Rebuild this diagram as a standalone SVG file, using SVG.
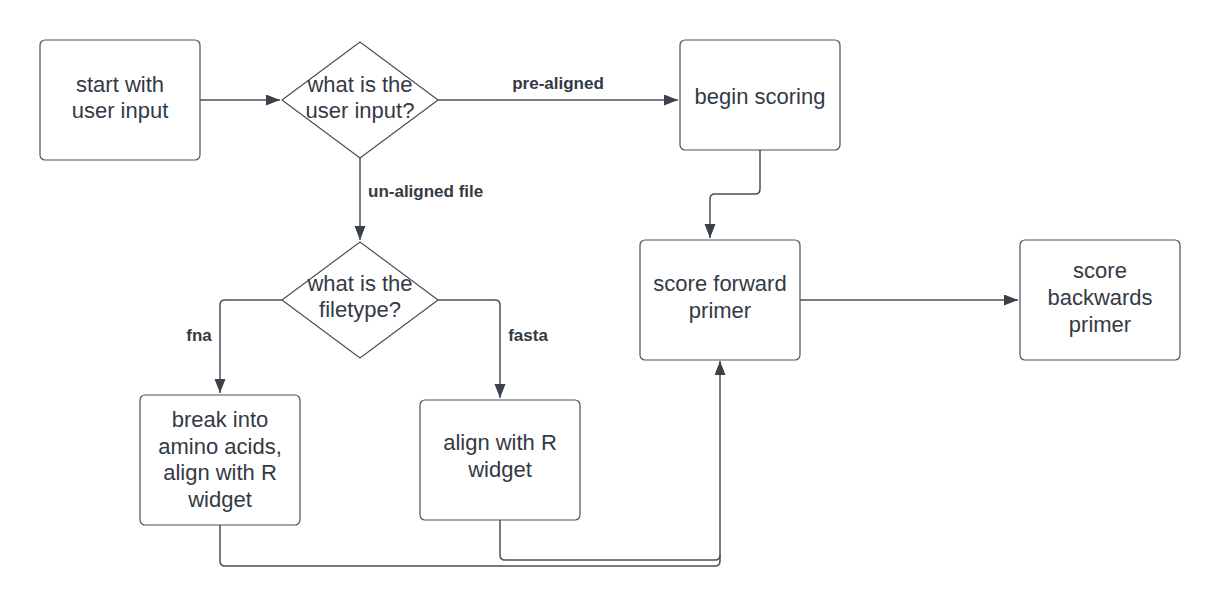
<svg xmlns="http://www.w3.org/2000/svg" width="1220" height="606" viewBox="0 0 1220 606">
<style>
.node{fill:#ffffff;stroke:#4a5059;stroke-width:1.2}
.t{font-family:"Liberation Sans",Arial,sans-serif;font-size:22px;fill:#333a45;text-anchor:middle}
.lbl{font-family:"Liberation Sans",Arial,sans-serif;font-size:17px;font-weight:bold;fill:#333a45}
.c{fill:none;stroke:#4a5059;stroke-width:1.5}
</style>
<defs>
<marker id="ah" markerUnits="userSpaceOnUse" markerWidth="15" markerHeight="12" refX="14" refY="5.5" orient="auto">
<path d="M0,0 L14,5.5 L0,11 z" fill="#3a414a"/>
</marker>
</defs>
<rect width="1220" height="606" fill="#ffffff"/>
<g id="connectors">
<path class="c" d="M200,100 H280" marker-end="url(#ah)"/>
<path class="c" d="M438,100 H678" marker-end="url(#ah)"/>
<path class="c" d="M360,158 V240" marker-end="url(#ah)"/>
<path class="c" d="M282,300 H225 Q220,300 220,305 V393" marker-end="url(#ah)"/>
<path class="c" d="M438,300 H495 Q500,300 500,305 V398" marker-end="url(#ah)"/>
<path class="c" d="M760,150 V189 Q760,194 755,194 H715 Q710,194 710,199 V238" marker-end="url(#ah)"/>
<path class="c" d="M800,300 H1018" marker-end="url(#ah)"/>
<path class="c" d="M220,525 V561 Q220,566 225,566 H715 Q720,566 720,561 V361" marker-end="url(#ah)"/>
<path class="c" d="M500,520 V555 Q500,560 505,560 H715 Q720,560 720,555"/>
<text class="lbl" x="558" y="89" text-anchor="middle">pre-aligned</text>
<text class="lbl" x="368" y="197">un-aligned file</text>
<text class="lbl" x="199" y="341" text-anchor="middle">fna</text>
<text class="lbl" x="528" y="341" text-anchor="middle">fasta</text>
</g>
<g id="start">
<rect class="node" x="40" y="40" width="160" height="120" rx="5"/>
<text class="t" x="120" y="92">start with</text>
<text class="t" x="120" y="118">user input</text>
</g>
<g id="decision-input">
<path class="node" stroke-linejoin="round" d="M282,100 L360,42 L438,100 L360,158 Z"/>
<text class="t" x="360" y="92">what is the</text>
<text class="t" x="360" y="118">user input?</text>
</g>
<g id="begin-scoring">
<rect class="node" x="680" y="40" width="160" height="110" rx="5"/>
<text class="t" x="760" y="104">begin scoring</text>
</g>
<g id="decision-filetype">
<path class="node" stroke-linejoin="round" d="M282,300 L360,242 L438,300 L360,358 Z"/>
<text class="t" x="360" y="291">what is the</text>
<text class="t" x="360" y="317">filetype?</text>
</g>
<g id="break-into">
<rect class="node" x="140" y="395" width="160" height="130" rx="5"/>
<text class="t" x="220" y="427">break into</text>
<text class="t" x="220" y="454">amino acids,</text>
<text class="t" x="220" y="480">align with R</text>
<text class="t" x="220" y="507">widget</text>
</g>
<g id="align">
<rect class="node" x="420" y="400" width="160" height="120" rx="5"/>
<text class="t" x="500" y="450">align with R</text>
<text class="t" x="500" y="477">widget</text>
</g>
<g id="score-forward">
<rect class="node" x="640" y="240" width="160" height="120" rx="5"/>
<text class="t" x="720" y="291">score forward</text>
<text class="t" x="720" y="318">primer</text>
</g>
<g id="score-backwards">
<rect class="node" x="1020" y="240" width="160" height="120" rx="5"/>
<text class="t" x="1100" y="278">score</text>
<text class="t" x="1100" y="305">backwards</text>
<text class="t" x="1100" y="332">primer</text>
</g>
</svg>
